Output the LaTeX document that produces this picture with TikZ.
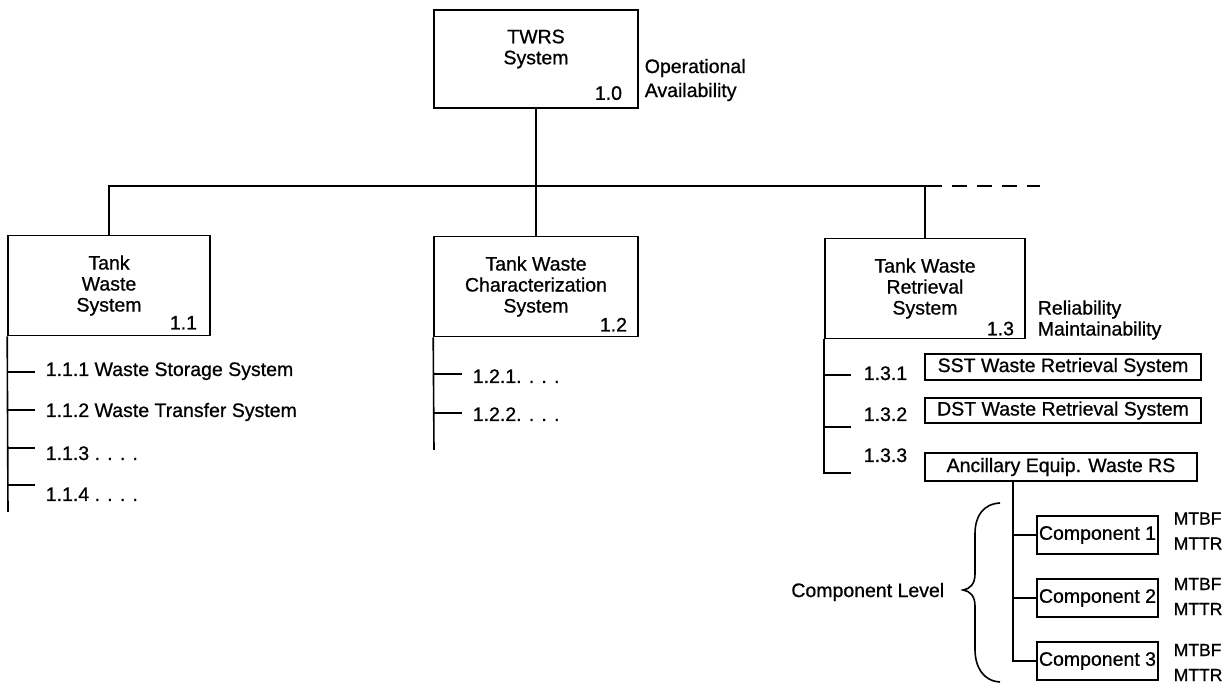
\documentclass[tikz,border=0pt]{standalone}
\usepackage{fontspec}
\setmainfont[FakeBold=0.8]{Liberation Sans}
\begin{document}
\begin{tikzpicture}[x=1pt,y=1pt,line width=1.6pt,
  every node/.style={font=\fontsize{19.5}{21}\selectfont,inner sep=0pt},
  sysbox/.style={draw,minimum width=202pt,minimum height=100pt,align=center},
  subbox/.style={draw,minimum width=276pt,minimum height=26pt},
  compbox/.style={draw,minimum width=121pt,minimum height=38pt},
  listlabel/.style={anchor=west,text height=14pt,text depth=0pt},
  numlabel/.style={anchor=south east},
  sidelabel/.style={anchor=west,align=left},
  ratelabel/.style={anchor=west,align=left,font=\fontsize{17.5}{25}\selectfont}]
\useasboundingbox (0,0) rectangle (1232,684);

\node[sysbox,minimum width=204pt,minimum height=98pt] (twrs) at (536,625) {};
\node[align=center] (twrstitle) at ([yshift=10]twrs.center) {TWRS\\System};
\node[numlabel] (n10) at ([xshift=-16,yshift=8]twrs.south east) {1.0};
\node[sidelabel,font=\fontsize{19.5}{24}\selectfont] (opavail) at (644,604) {Operational\\Availability};

\node[sysbox] (b11) at (109,398.5) {Tank\\Waste\\System};
\node[sysbox,minimum width=204pt] (b12) at (536,397.5) {Tank Waste\\Characterization\\System};
\node[sysbox,minimum width=200pt] (b13) at (925,395.5) {Tank Waste\\Retrieval\\System};
\node[numlabel] (n11) at ([xshift=-13,yshift=6]b11.south east) {1.1};
\node[numlabel] (n12) at ([xshift=-11,yshift=5]b12.south east) {1.2};
\node[numlabel] (n13) at ([xshift=-11,yshift=3]b13.south east) {1.3};
\node[sidelabel] (relmaint) at (1037,364) {Reliability\\Maintainability};

\coordinate (busL) at (109,498);
\coordinate (busR) at (942,498);
\coordinate (busE) at (1040,498);
\draw (b11.north) -- (b11.north |- busL) -- (busR);
\draw[dash pattern=on 15pt off 10pt] ([xshift=10]busR) -- (busE);
\draw (twrs.south) -- (twrs.south |- busL);
\draw (b12.north |- busL) -- (b12.north);
\draw (b13.north |- busL) -- (b13.north);

\coordinate (end11) at (8,172);
\draw (b11.south west) -- (end11);
\foreach \ty/\ly/\t [count=\i] in {312/315/1.1.1 Waste Storage System,
    274/274/1.1.2 Waste Transfer System, 236/231/1.1.3 . . . ., 199/190/1.1.4 . . . .} {
  \coordinate (t11\i) at (35,\ty);
  \draw (b11.south west |- t11\i) -- (t11\i);
  \node[listlabel] (l11\i) at (45,\ly) {\t};
}

\coordinate (end12) at (434,234);
\draw (b12.south west) -- (end12);
\foreach \ty/\ly/\t [count=\i] in {310/308/1.2.1. . . ., 271/270/1.2.2. . . .} {
  \coordinate (t12\i) at (462,\ty);
  \draw (b12.south west |- t12\i) -- (t12\i);
  \node[listlabel] (l12\i) at (472,\ly) {\t};
}

\coordinate (t131) at (851,309);
\coordinate (t132) at (851,257);
\coordinate (t133) at (851,211);
\draw (b13.south west) -- (b13.south west |- t133) -- (t133);
\draw (b13.south west |- t131) -- (t131);
\draw (b13.south west |- t132) -- (t132);
\node[listlabel] (l131) at (863,311) {1.3.1};
\node[listlabel] (l132) at (863,270) {1.3.2};
\node[listlabel] (l133) at (863,229) {1.3.3};
\node[subbox] (s131) at (1063,317) {SST Waste Retrieval System};
\node[subbox,minimum height=25pt] (s132) at (1063,273.5) {DST Waste Retrieval System};
\node[subbox,minimum width=272pt,minimum height=28pt] (s133) at (1061,217) {Ancillary Equip. Waste RS};

\node[compbox] (c1) at (1097.5,149) {Component 1};
\node[compbox] (c2) at (1097.5,86) {Component 2};
\node[compbox] (c3) at (1097.5,23) {Component 3};
\node[ratelabel] (r1) at (1173,153) {MTBF\\MTTR};
\node[ratelabel] (r2) at (1173,87.5) {MTBF\\MTTR};
\node[ratelabel] (r3) at (1173,21.5) {MTBF\\MTTR};

\path (s133.south) ++(-48,0) coordinate (stemtop);
\draw[line width=1.3pt] (stemtop) -- (stemtop |- c3.west) -- (c3.west);
\draw[line width=1.3pt] (stemtop |- c1.west) -- (c1.west);
\draw[line width=1.3pt] (stemtop |- c2.west) -- (c2.west);

\node[anchor=east] (complevel) at (945,92) {Component Level};
\draw (1000,181) .. controls (983,180) and (975,168) .. (975,150) -- (975,110)
  .. controls (975,100) and (970,95) .. (963,94)
  .. controls (970,93) and (975,88) .. (975,78) -- (975,35)
  .. controls (975,17) and (983,3) .. (1000,2);
\end{tikzpicture}
\end{document}
